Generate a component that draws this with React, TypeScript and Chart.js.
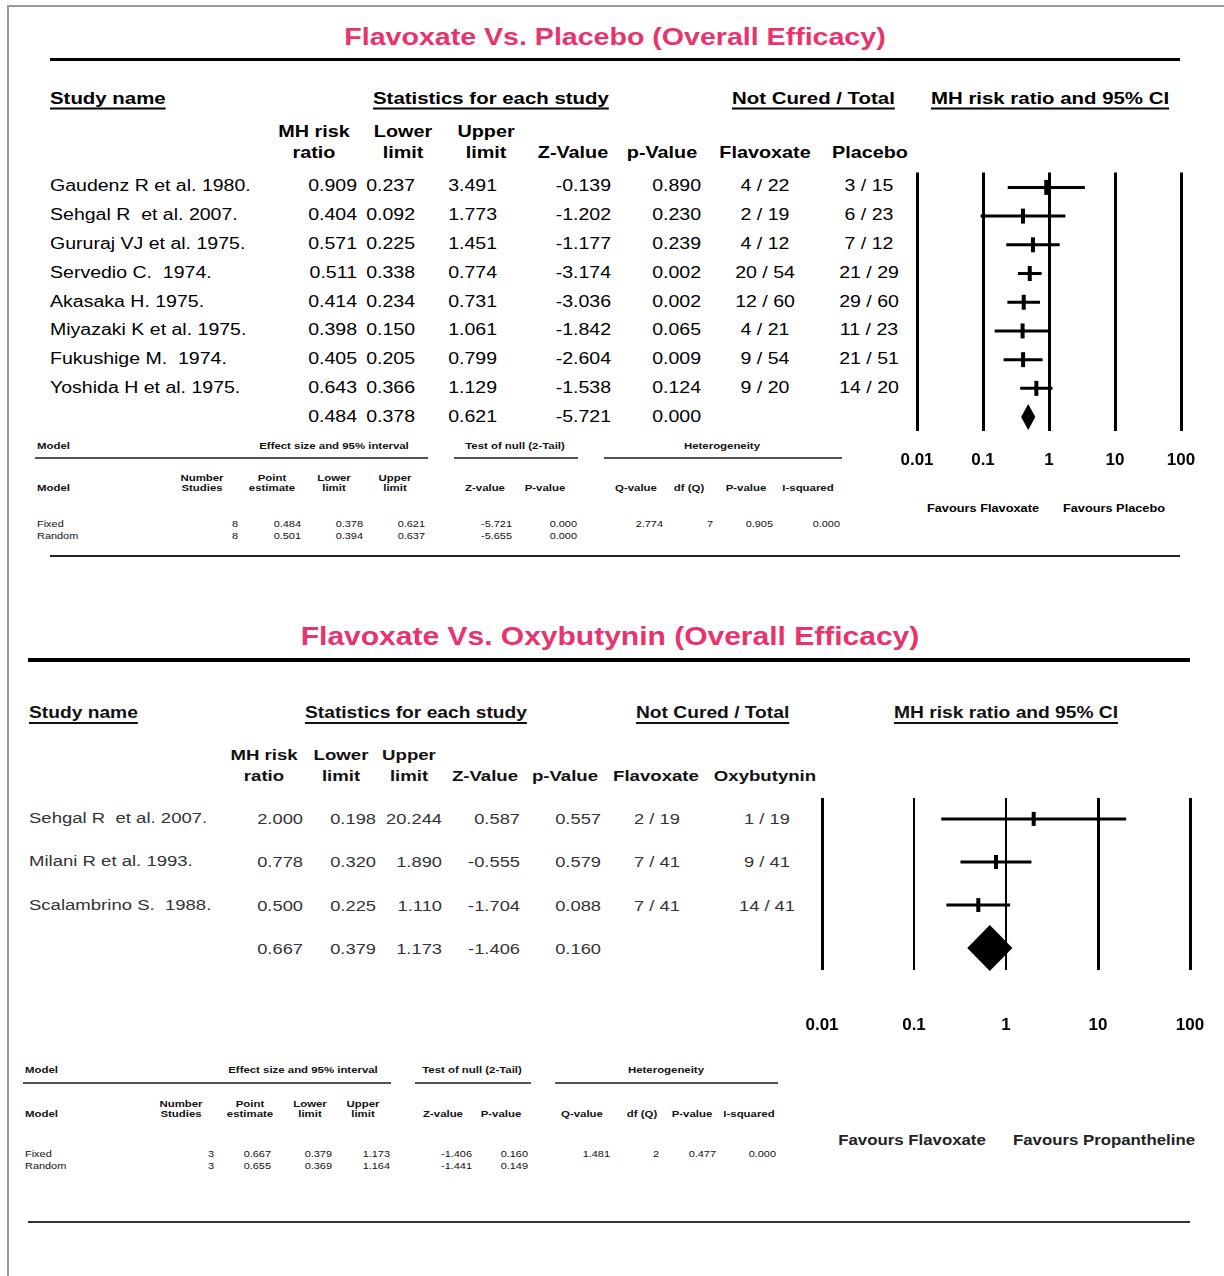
import React, { useEffect, useRef } from "react";
import { Chart, registerables } from "chart.js";

Chart.register(...registerables);

const FONT = "'Liberation Sans', Arial, Helvetica, sans-serif";
const PINK = "#e8336e";

// ---------------- Panel A : Flavoxate vs Placebo ----------------
const titleA = "Flavoxate Vs. Placebo (Overall Efficacy)";
const studiesA = [
  "Gaudenz R et al. 1980.",
  "Sehgal R  et al. 2007.",
  "Gururaj VJ et al. 1975.",
  "Servedio C.  1974.",
  "Akasaka H. 1975.",
  "Miyazaki K et al. 1975.",
  "Fukushige M.  1974.",
  "Yoshida H et al. 1975.",
];
const ratioA = [0.909, 0.404, 0.571, 0.511, 0.414, 0.398, 0.405, 0.643];
const lowerA = [0.237, 0.092, 0.225, 0.338, 0.234, 0.15, 0.205, 0.366];
const upperA = [3.491, 1.773, 1.451, 0.774, 0.731, 1.061, 0.799, 1.129];
const zA = [-0.139, -1.202, -1.177, -3.174, -3.036, -1.842, -2.604, -1.538];
const pA = [0.89, 0.23, 0.239, 0.002, 0.002, 0.065, 0.009, 0.124];
const flavA = ["4 / 22", "2 / 19", "4 / 12", "20 / 54", "12 / 60", "4 / 21", "9 / 54", "9 / 20"];
const placA = ["3 / 15", "6 / 23", "7 / 12", "21 / 29", "29 / 60", "11 / 23", "21 / 51", "14 / 20"];
// ratio, lower, upper, z, p
const summaryA = [0.484, 0.378, 0.621, -5.721, 0.0];
// studies, point, lower, upper, z, p, Q, df, p, I2
const fixedA = [8, 0.484, 0.378, 0.621, -5.721, 0.0, 2.774, 7, 0.905, 0.0];
const randomA = [8, 0.501, 0.394, 0.637, -5.655, 0.0];
const favoursA = ["Favours Flavoxate", "Favours Placebo"];

// ---------------- Panel B : Flavoxate vs Oxybutynin ----------------
const titleB = "Flavoxate Vs. Oxybutynin (Overall Efficacy)";
const studiesB = ["Sehgal R  et al. 2007.", "Milani R et al. 1993.", "Scalambrino S.  1988."];
const ratioB = [2.0, 0.778, 0.5];
const lowerB = [0.198, 0.32, 0.225];
const upperB = [20.244, 1.89, 1.11];
const zB = [0.587, -0.555, -1.704];
const pB = [0.557, 0.579, 0.088];
const flavB = ["2 / 19", "7 / 41", "7 / 41"];
const oxyB = ["1 / 19", "9 / 41", "14 / 41"];
const summaryB = [0.667, 0.379, 1.173, -1.406, 0.16];
const fixedB = [3, 0.667, 0.379, 1.173, -1.406, 0.16, 1.481, 2, 0.477, 0.0];
const randomB = [3, 0.655, 0.369, 1.164, -1.441, 0.149];
const favoursB = ["Favours Flavoxate", "Favours Propantheline"];

const modelNames = ["Fixed", "Random"];
const tickValues = [0.01, 0.1, 1, 10, 100];
const tickLabels = ["0.01", "0.1", "1", "10", "100"];

const f3 = (v: number) => v.toFixed(3);
const fm = (v: number, i: number) => (i === 0 || i === 7 ? String(v) : v.toFixed(3));

type TProps = {
  x: number;
  y: number;
  text: string;
  size?: number;
  bold?: boolean;
  align?: "left" | "center" | "right";
  sx?: number;
  color?: string;
  underline?: boolean;
};

function T({ x, y, text, size = 16, bold = false, align = "left", sx = 1.2, color = "#000", underline = false }: TProps) {
  const tx = align === "left" ? "0%" : align === "center" ? "-50%" : "-100%";
  const origin = align === "left" ? "0% 50%" : align === "center" ? "50% 50%" : "100% 50%";
  return (
    <div
      style={{
        position: "absolute",
        left: x,
        top: y,
        transform: `translate(${tx}, -50%) scaleX(${sx})`,
        transformOrigin: origin,
        whiteSpace: "pre",
        fontFamily: FONT,
        fontSize: size,
        fontWeight: bold ? 700 : 400,
        lineHeight: 1,
        color,
        textDecoration: underline ? "underline" : "none",
        textDecorationThickness: underline ? "2px" : undefined,
        textUnderlineOffset: underline ? "4px" : undefined,
      }}
    >
      {text}
    </div>
  );
}

function HLine({ x1, x2, y, h, color = "#000" }: { x1: number; x2: number; y: number; h: number; color?: string }) {
  return <div style={{ position: "absolute", left: x1, top: y - h / 2, width: x2 - x1, height: h, background: color }} />;
}

type ForestProps = {
  left: number;
  top: number;
  width: number;
  height: number;
  padTop: number;
  padBottom: number;
  padSide: number;
  tickPad: number;
  tickSize: number;
  yMin: number;
  yMax: number;
  ratio: number[];
  lower: number[];
  upper: number[];
  summary: number[];
  ciWidth: number;
  markerLen: number;
  markerWidth: number;
  diamondHalf: number;
  thinGrid: number[];
};

function Forest(p: ForestProps) {
  const ref = useRef<HTMLCanvasElement>(null);
  useEffect(() => {
    const canvas = ref.current;
    if (!canvas) return;
    const n = p.ratio.length;
    const ciSets = p.ratio.map((_, i) => ({
      data: [
        { x: p.lower[i], y: i },
        { x: p.upper[i], y: i },
      ],
      showLine: true,
      borderColor: "#000",
      borderWidth: p.ciWidth,
      pointRadius: 0,
      pointHoverRadius: 0,
      clip: false as any,
    }));
    const markerSet = {
      data: p.ratio.map((r, i) => ({ x: r, y: i })),
      showLine: false,
      pointStyle: "line" as any,
      pointRotation: 90,
      pointRadius: p.markerLen / 2,
      pointBorderWidth: p.markerWidth,
      pointBorderColor: "#000",
      pointBackgroundColor: "#000",
      clip: false as any,
    };
    const diamondPlugin = {
      id: "diamond",
      afterDatasetsDraw(chart: any) {
        const { ctx } = chart;
        const x = chart.scales.x;
        const y = chart.scales.y;
        const cx = x.getPixelForValue(p.summary[0]);
        const lx = x.getPixelForValue(p.summary[1]);
        const rx = x.getPixelForValue(p.summary[2]);
        const cy = y.getPixelForValue(n);
        ctx.save();
        ctx.beginPath();
        ctx.moveTo(lx, cy);
        ctx.lineTo(cx, cy - p.diamondHalf);
        ctx.lineTo(rx, cy);
        ctx.lineTo(cx, cy + p.diamondHalf);
        ctx.closePath();
        ctx.fillStyle = "#000";
        ctx.fill();
        ctx.restore();
      },
    };
    const chart = new Chart(canvas, {
      type: "scatter",
      data: { datasets: [...ciSets, markerSet] as any },
      options: {
        animation: false,
        responsive: false,
        events: [],
        layout: { padding: { left: p.padSide, right: p.padSide, top: p.padTop, bottom: p.padBottom } },
        plugins: { legend: { display: false }, tooltip: { enabled: false } },
        scales: {
          x: {
            type: "logarithmic",
            min: 0.01,
            max: 100,
            position: "bottom",
            afterBuildTicks: (s: any) => {
              s.ticks = tickValues.map((v) => ({ value: v }));
            },
            afterFit: (s: any) => {
              s.paddingLeft = 0;
              s.paddingRight = 0;
              s.height = p.tickPad + 20;
            },
            ticks: {
              autoSkip: false,
              maxRotation: 0,
              minRotation: 0,
              padding: p.tickPad,
              color: "#000",
              font: { family: FONT, size: p.tickSize, weight: "bold", lineHeight: "20px" as any },
              callback: (_v: any, i: number) => tickLabels[i],
            },
            grid: {
              color: "#000",
              lineWidth: (c: any) => (c.tick && p.thinGrid.includes(c.tick.value) ? 2 : 3),
              drawTicks: false,
            },
            border: { display: false },
          } as any,
          y: { type: "linear", min: p.yMin, max: p.yMax, reverse: true, display: false },
        },
      },
      plugins: [diamondPlugin],
    });
    return () => chart.destroy();
  }, []);
  return (
    <canvas
      ref={ref}
      width={p.width}
      height={p.height}
      style={{ position: "absolute", left: p.left, top: p.top, width: p.width, height: p.height }}
    />
  );
}

type TableLayout = {
  groupY: number;
  modelX: number;
  groupCenters: number[];
  lines: number[][];
  lineY: number;
  subY1: number;
  subY2: number;
  subCenters: number[];
  valueRights: number[];
  rowYs: number[];
  size: number;
};

const groupTitles = ["Effect size and 95% interval", "Test of null (2-Tail)", "Heterogeneity"];
const subTwoLine = [
  ["Number", "Studies"],
  ["Point", "estimate"],
  ["Lower", "limit"],
  ["Upper", "limit"],
];
const subOneLine = ["Z-value", "P-value", "Q-value", "df (Q)", "P-value", "I-squared"];

function ModelTable({ L, fixed, random }: { L: TableLayout; fixed: number[]; random: number[] }) {
  const items: React.ReactNode[] = [];
  const c = "#111";
  items.push(<T key="m1" x={L.modelX} y={L.groupY} text="Model" size={L.size} bold sx={1.2} color={c} />);
  groupTitles.forEach((g, i) =>
    items.push(<T key={"g" + i} x={L.groupCenters[i]} y={L.groupY} text={g} size={L.size} bold align="center" sx={1.2} color={c} />)
  );
  L.lines.forEach((ln, i) => items.push(<HLine key={"l" + i} x1={ln[0]} x2={ln[1]} y={L.lineY} h={2} color="#555" />));
  items.push(<T key="m2" x={L.modelX} y={L.subY2} text="Model" size={L.size} bold sx={1.2} color={c} />);
  subTwoLine.forEach((s, i) => {
    items.push(<T key={"sa" + i} x={L.subCenters[i]} y={L.subY1} text={s[0]} size={L.size} bold align="center" sx={1.2} color={c} />);
    items.push(<T key={"sb" + i} x={L.subCenters[i]} y={L.subY2} text={s[1]} size={L.size} bold align="center" sx={1.2} color={c} />);
  });
  subOneLine.forEach((s, i) =>
    items.push(<T key={"so" + i} x={L.subCenters[i + 4]} y={L.subY2} text={s} size={L.size} bold align="center" sx={1.2} color={c} />)
  );
  [fixed, random].forEach((row, r) => {
    items.push(<T key={"mn" + r} x={L.modelX} y={L.rowYs[r]} text={modelNames[r]} size={L.size} sx={1.15} color={c} />);
    row.forEach((v, i) =>
      items.push(<T key={"v" + r + "_" + i} x={L.valueRights[i]} y={L.rowYs[r]} text={fm(v, i)} size={L.size} align="right" sx={1.15} color={c} />)
    );
  });
  return <>{items}</>;
}

const layoutTableA: TableLayout = {
  groupY: 446,
  modelX: 37,
  groupCenters: [334, 515, 722],
  lines: [
    [35, 428],
    [454, 578],
    [604, 842],
  ],
  lineY: 458,
  subY1: 478,
  subY2: 488,
  subCenters: [202, 272, 334, 395, 485, 545, 636, 689, 746, 808],
  valueRights: [238, 301, 363, 425, 512, 577, 663, 713, 773, 840],
  rowYs: [524, 536],
  size: 9.5,
};

const layoutTableB: TableLayout = {
  groupY: 1070,
  modelX: 25,
  groupCenters: [303, 472, 666],
  lines: [
    [23, 391],
    [415, 531],
    [555, 778],
  ],
  lineY: 1083,
  subY1: 1104,
  subY2: 1114,
  subCenters: [181, 250, 310, 363, 443, 501, 582, 642, 692, 749],
  valueRights: [214, 271, 332, 390, 472, 528, 610, 659, 716, 776],
  rowYs: [1154, 1166],
  size: 9.5,
};

function PanelA() {
  const rowY = (i: number) => 186 + 28.875 * i;
  const el: React.ReactNode[] = [];
  el.push(<T key="t" x={615} y={37} text={titleA} size={24} bold align="center" sx={1.19} color={PINK} />);
  el.push(<HLine key="tl" x1={50} x2={1180} y={59} h={3} />);
  el.push(<T key="h1" x={50} y={98} text="Study name" size={17} bold underline />);
  el.push(<T key="h2" x={373} y={98} text="Statistics for each study" size={17} bold underline />);
  el.push(<T key="h3" x={732} y={98} text="Not Cured / Total" size={17} bold underline />);
  el.push(<T key="h4" x={931} y={98} text="MH risk ratio and 95% CI" size={17} bold underline />);
  const ch = 16.5;
  el.push(<T key="c1a" x={314} y={131} text="MH risk" size={ch} bold align="center" />);
  el.push(<T key="c1b" x={314} y={152} text="ratio" size={ch} bold align="center" />);
  el.push(<T key="c2a" x={403} y={131} text="Lower" size={ch} bold align="center" />);
  el.push(<T key="c2b" x={403} y={152} text="limit" size={ch} bold align="center" />);
  el.push(<T key="c3a" x={486} y={131} text="Upper" size={ch} bold align="center" />);
  el.push(<T key="c3b" x={486} y={152} text="limit" size={ch} bold align="center" />);
  el.push(<T key="c4" x={573} y={152} text="Z-Value" size={ch} bold align="center" />);
  el.push(<T key="c5" x={662} y={152} text="p-Value" size={ch} bold align="center" />);
  el.push(<T key="c6" x={765} y={152} text="Flavoxate" size={ch} bold align="center" />);
  el.push(<T key="c7" x={870} y={152} text="Placebo" size={ch} bold align="center" />);
  const rs = 16;
  const sx = 1.22;
  studiesA.forEach((s, i) => {
    const y = rowY(i);
    el.push(<T key={"n" + i} x={50} y={y} text={s} size={rs} sx={sx} />);
    el.push(<T key={"r" + i} x={357} y={y} text={f3(ratioA[i])} size={rs} sx={sx} align="right" />);
    el.push(<T key={"lo" + i} x={415} y={y} text={f3(lowerA[i])} size={rs} sx={sx} align="right" />);
    el.push(<T key={"up" + i} x={497} y={y} text={f3(upperA[i])} size={rs} sx={sx} align="right" />);
    el.push(<T key={"z" + i} x={611} y={y} text={f3(zA[i])} size={rs} sx={sx} align="right" />);
    el.push(<T key={"p" + i} x={701} y={y} text={f3(pA[i])} size={rs} sx={sx} align="right" />);
    el.push(<T key={"f" + i} x={765} y={y} text={flavA[i]} size={rs} sx={sx} align="center" />);
    el.push(<T key={"pl" + i} x={869} y={y} text={placA[i]} size={rs} sx={sx} align="center" />);
  });
  const sy = rowY(studiesA.length);
  const sRights = [357, 415, 497, 611, 701];
  summaryA.forEach((v, i) => el.push(<T key={"s" + i} x={sRights[i]} y={sy} text={f3(v)} size={rs} sx={sx} align="right" />));
  el.push(<T key="fa1" x={983} y={508} text={favoursA[0]} size={11} bold align="center" sx={1.16} />);
  el.push(<T key="fa2" x={1114} y={508} text={favoursA[1]} size={11} bold align="center" sx={1.16} />);
  el.push(<ModelTable key="mt" L={layoutTableA} fixed={fixedA} random={randomA} />);
  el.push(<HLine key="bl" x1={50} x2={1180} y={556} h={2} color="#222" />);
  return <>{el}</>;
}

function PanelB() {
  const rowY = (i: number) => 818 + 43.333 * i;
  const el: React.ReactNode[] = [];
  el.push(<T key="t" x={610} y={636} text={titleB} size={25} bold align="center" sx={1.2} color={PINK} />);
  el.push(<HLine key="tl" x1={28} x2={1190} y={660} h={4} />);
  el.push(<T key="h1" x={29} y={713} text="Study name" size={16} bold underline color="#111" />);
  el.push(<T key="h2" x={305} y={713} text="Statistics for each study" size={16} bold underline color="#111" />);
  el.push(<T key="h3" x={636} y={713} text="Not Cured / Total" size={16} bold underline color="#111" />);
  el.push(<T key="h4" x={894} y={713} text="MH risk ratio and 95% CI" size={16} bold underline color="#111" />);
  const ch = 15.5;
  const cc = "#111";
  el.push(<T key="c1a" x={264} y={755} text="MH risk" size={ch} bold align="center" color={cc} />);
  el.push(<T key="c1b" x={264} y={776} text="ratio" size={ch} bold align="center" color={cc} />);
  el.push(<T key="c2a" x={341} y={755} text="Lower" size={ch} bold align="center" color={cc} />);
  el.push(<T key="c2b" x={341} y={776} text="limit" size={ch} bold align="center" color={cc} />);
  el.push(<T key="c3a" x={409} y={755} text="Upper" size={ch} bold align="center" color={cc} />);
  el.push(<T key="c3b" x={409} y={776} text="limit" size={ch} bold align="center" color={cc} />);
  el.push(<T key="c4" x={485} y={776} text="Z-Value" size={ch} bold align="center" color={cc} />);
  el.push(<T key="c5" x={565} y={776} text="p-Value" size={ch} bold align="center" color={cc} />);
  el.push(<T key="c6" x={656} y={776} text="Flavoxate" size={ch} bold align="center" color={cc} />);
  el.push(<T key="c7" x={765} y={776} text="Oxybutynin" size={ch} bold align="center" color={cc} />);
  const rs = 15;
  const sx = 1.22;
  const col = "#333";
  studiesB.forEach((s, i) => {
    const y = rowY(i);
    el.push(<T key={"n" + i} x={29} y={y} text={s} size={15.2} sx={sx} color={col} />);
    el.push(<T key={"r" + i} x={303} y={y} text={f3(ratioB[i])} size={rs} sx={sx} align="right" color={col} />);
    el.push(<T key={"lo" + i} x={376} y={y} text={f3(lowerB[i])} size={rs} sx={sx} align="right" color={col} />);
    el.push(<T key={"up" + i} x={442} y={y} text={f3(upperB[i])} size={rs} sx={sx} align="right" color={col} />);
    el.push(<T key={"z" + i} x={520} y={y} text={f3(zB[i])} size={rs} sx={sx} align="right" color={col} />);
    el.push(<T key={"p" + i} x={601} y={y} text={f3(pB[i])} size={rs} sx={sx} align="right" color={col} />);
    el.push(<T key={"f" + i} x={657} y={y} text={flavB[i]} size={rs} sx={sx} align="center" color={col} />);
    el.push(<T key={"o" + i} x={767} y={y} text={oxyB[i]} size={rs} sx={sx} align="center" color={col} />);
  });
  const sy = rowY(studiesB.length);
  const sRights = [303, 376, 442, 520, 601];
  summaryB.forEach((v, i) => el.push(<T key={"s" + i} x={sRights[i]} y={sy} text={f3(v)} size={rs} sx={sx} align="right" color={col} />));
  el.push(<T key="fa1" x={912} y={1140} text={favoursB[0]} size={14} bold align="center" sx={1.2} color="#222" />);
  el.push(<T key="fa2" x={1104} y={1140} text={favoursB[1]} size={14} bold align="center" sx={1.2} color="#222" />);
  el.push(<ModelTable key="mt" L={layoutTableB} fixed={fixedB} random={randomB} />);
  el.push(<HLine key="bl" x1={28} x2={1190} y={1222} h={2} color="#333" />);
  return <>{el}</>;
}

export default function App() {
  return (
    <div
      style={{
        position: "absolute",
        left: 0,
        top: 0,
        width: 1224,
        height: 1276,
        background: "#fff",
        overflow: "hidden",
        fontFamily: FONT,
      }}
    >
      <div style={{ position: "absolute", left: 8, top: 5, width: 1216, height: 2, background: "#999" }} />
      <div style={{ position: "absolute", left: 7, top: 5, width: 2, height: 1271, background: "#999" }} />
      <PanelA />
      <Forest
        left={897}
        top={161}
        width={304}
        height={314}
        padTop={10}
        padBottom={5}
        padSide={20}
        tickPad={19}
        tickSize={17}
        yMin={-0.519}
        yMax={8.485}
        ratio={ratioA}
        lower={lowerA}
        upper={upperA}
        summary={summaryA}
        ciWidth={3}
        markerLen={15}
        markerWidth={4}
        diamondHalf={13}
        thinGrid={[]}
      />
      <PanelB />
      <Forest
        left={802}
        top={787}
        width={408}
        height={253}
        padTop={10}
        padBottom={5}
        padSide={20}
        tickPad={45}
        tickSize={17}
        yMin={-0.485}
        yMax={3.508}
        ratio={ratioB}
        lower={lowerB}
        upper={upperB}
        summary={summaryB}
        ciWidth={3}
        markerLen={14}
        markerWidth={4}
        diamondHalf={23}
        thinGrid={[0.1, 1]}
      />
    </div>
  );
}
